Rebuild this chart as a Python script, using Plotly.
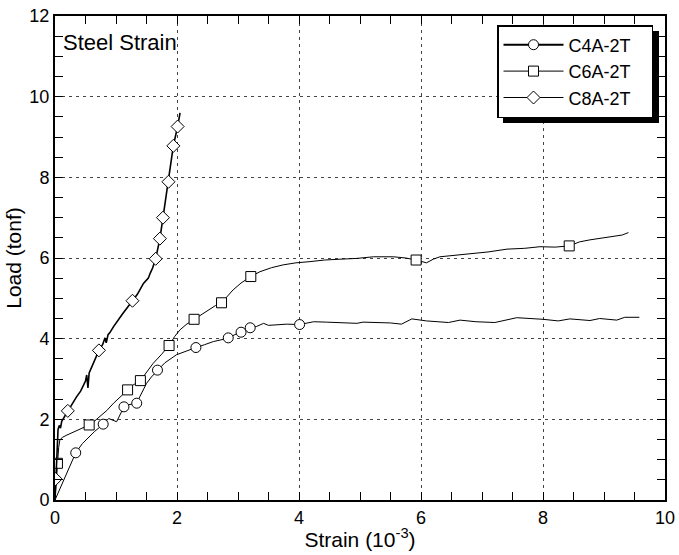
import plotly.graph_objects as go

# ---- data ----
c4_x = [0, 0.1, 0.2, 0.34, 0.45, 0.55, 0.65, 0.79, 0.88, 1.01, 1.06, 1.13, 1.2, 1.34, 1.39, 1.45, 1.5,
        1.58, 1.68, 1.8, 1.99, 2.15, 2.31, 2.45, 2.6, 2.72, 2.84, 2.95, 3.05, 3.2, 3.3, 3.42, 3.5,
        3.63, 3.8, 4.01, 4.24, 4.45, 4.67, 4.95, 5.05, 5.27, 5.5, 5.68, 5.85, 6.09, 6.45, 6.64,
        6.9, 7.21, 7.57, 8.0, 8.25, 8.44, 8.77, 8.93, 9.21, 9.34, 9.58]
c4_y = [0, 0.35, 0.7, 1.17, 1.4, 1.55, 1.7, 1.88, 2.02, 1.94, 2.1, 2.31, 2.36, 2.4, 2.56, 2.75, 2.89,
        3.05, 3.22, 3.4, 3.6, 3.7, 3.78, 3.85, 3.93, 3.97, 4.02, 4.1, 4.16, 4.27, 4.3, 4.38, 4.33,
        4.34, 4.36, 4.35, 4.42, 4.41, 4.4, 4.38, 4.41, 4.4, 4.39, 4.36, 4.49, 4.44, 4.4, 4.46,
        4.42, 4.4, 4.52, 4.48, 4.44, 4.49, 4.45, 4.5, 4.46, 4.53, 4.53]
c4_mx = [0.34, 0.79, 1.13, 1.34, 1.68, 2.31, 2.84, 3.05, 3.2, 4.01]
c4_my = [1.17, 1.88, 2.31, 2.4, 3.22, 3.78, 4.02, 4.16, 4.27, 4.35]

c6_x = [0, 0.02, 0.04, 0.06, 0.08, 0.12, 0.18, 0.25, 0.32, 0.4, 0.48, 0.56, 0.65, 0.74, 0.85, 0.96,
        1.05, 1.12, 1.19, 1.28, 1.4, 1.5, 1.61, 1.74, 1.87, 1.96, 2.05, 2.15, 2.28, 2.4, 2.54, 2.63,
        2.73, 2.82, 2.92, 3.05, 3.21, 3.36, 3.55, 3.74, 3.95, 4.18, 4.42, 4.67, 4.95, 5.22, 5.55,
        5.75, 5.92, 6.09, 6.2, 6.31, 6.6, 6.86, 7.1, 7.41, 7.7, 7.95, 8.2, 8.43, 8.6, 8.77, 9.0,
        9.15, 9.3, 9.4]
c6_y = [0, 0.5, 0.91, 1.3, 1.49, 1.55, 1.6, 1.65, 1.7, 1.74, 1.8, 1.86, 1.96, 2.07, 2.22, 2.4,
        2.52, 2.62, 2.73, 2.85, 2.96, 3.18, 3.39, 3.6, 3.83, 4.05, 4.22, 4.35, 4.48, 4.6, 4.75, 4.82,
        4.89, 5.05, 5.21, 5.38, 5.54, 5.66, 5.76, 5.83, 5.88, 5.91, 5.95, 5.97, 5.99, 6.03, 6.03,
        6.0, 5.95, 5.88, 5.97, 6.03, 6.07, 6.12, 6.15, 6.22, 6.24, 6.28, 6.27, 6.3, 6.4, 6.45, 6.5,
        6.53, 6.57, 6.63]
c6_mx = [0.04, 0.56, 1.19, 1.4, 1.87, 2.28, 2.73, 3.21, 5.92, 8.43]
c6_my = [0.91, 1.86, 2.73, 2.96, 3.83, 4.48, 4.89, 5.54, 5.95, 6.3]

c8_x = [0, 0.02, 0.04, 0.05, 0.07, 0.09, 0.11, 0.15, 0.21, 0.28, 0.35, 0.42, 0.5, 0.52, 0.54, 0.56,
        0.62, 0.68, 0.72, 0.78, 0.82, 0.84, 0.87, 0.9, 0.96, 1.1, 1.2, 1.27, 1.35, 1.45, 1.53, 1.56,
        1.6, 1.65, 1.72, 1.77, 1.86, 1.94, 2.01, 2.05]
c8_y = [0, 0.6, 1.2, 1.75, 1.85, 1.78, 1.95, 2.05, 2.21, 2.4, 2.55, 2.7, 2.95, 3.1, 2.78, 3.15,
        3.35, 3.55, 3.71, 3.85, 4.02, 3.9, 4.1, 4.15, 4.3, 4.6, 4.8, 4.94, 5.1, 5.37, 5.5, 5.62,
        5.75, 5.98, 6.48, 7.0, 7.89, 8.78, 9.26, 9.6]
c8_mx = [0.01, 0.21, 0.72, 1.27, 1.65, 1.72, 1.77, 1.86, 1.94, 2.01]
c8_my = [0.52, 2.21, 3.71, 4.94, 5.98, 6.48, 7.0, 7.89, 8.78, 9.26]

names = ["C4A-2T", "C6A-2T", "C8A-2T"]
symbols = ["circle", "square", "diamond"]

FONT = "Liberation Sans, Arial"

fig = go.Figure()
series = [(c4_x, c4_y, c4_mx, c4_my, 1.0, 10), (c6_x, c6_y, c6_mx, c6_my, 1.0, 10),
          (c8_x, c8_y, c8_mx, c8_my, 1.6, 10)]
for (lx, ly, mx, my, lw, ms), nm, sym in zip(series, names, symbols):
    fig.add_trace(go.Scatter(x=lx, y=ly, mode="lines", line=dict(color="black", width=lw),
                             showlegend=False, hoverinfo="skip"))
    fig.add_trace(go.Scatter(x=mx, y=my, mode="markers", showlegend=False,
                             marker=dict(symbol=sym, size=ms, color="white",
                                         line=dict(color="black", width=1))))

leg_widths = [2, 1, 1]
NB = "\u00a0\u00a0\u00a0"
for nm, sym, lw in zip(names, symbols, leg_widths):
    fig.add_trace(go.Scatter(x=[None], y=[None], mode="lines+markers", name=nm + NB,
                             line=dict(color="black", width=lw),
                             marker=dict(symbol=sym, size=10, color="white",
                                         line=dict(color="black", width=1))))

axis_common = dict(
    showline=True, linecolor="black", linewidth=2, mirror="allticks",
    ticks="inside", ticklen=8, tickwidth=1, tickcolor="black",
    showgrid=True, gridcolor="#444", gridwidth=1, griddash="3px,4px",
    zeroline=False, tickfont=dict(size=18, color="black", family=FONT),
    minor=dict(ticks="inside", ticklen=8, tickwidth=1, tickcolor="black", showgrid=False),
)

fig.update_xaxes(range=[0, 10], tick0=0, dtick=2, minor_dtick=0.5,
                 title=dict(text="Strain (10<sup>-3</sup>)", standoff=6,
                            font=dict(size=21, color="black", family=FONT)),
                 **axis_common)
fig.update_yaxes(range=[0, 12], tick0=0, dtick=2, minor_dtick=0.5,
                 title=dict(text="Load (tonf)", standoff=2,
                            font=dict(size=21, color="black", family=FONT)),
                 **axis_common)

# legend box geometry (pixels) used for the drop shadow
LB_L, LB_T, LB_R, LB_B = 497, 25, 653, 118
SH = 6
fig.add_shape(type="rect", xref="paper", yref="paper",
              x0=(LB_L + SH - 55) / 610, x1=(LB_R + SH - 55) / 610,
              y0=(500 - LB_B - SH + 1) / 484, y1=(500 - LB_T - SH) / 484,
              fillcolor="black", line=dict(width=0), layer="above")

fig.add_annotation(text="Steel Strain", xref="paper", yref="paper",
                   x=(61 - 55) / 610, y=(500 - 42) / 484, xanchor="left", yanchor="middle",
                   showarrow=False, font=dict(size=22, color="black", family=FONT))

fig.update_layout(
    width=679, height=555,
    margin=dict(l=55, r=14, t=16, b=55, autoexpand=False),
    paper_bgcolor="white", plot_bgcolor="white",
    font=dict(family=FONT, color="black"),
    legend=dict(x=(LB_L - 55) / 610, y=(500 - LB_T) / 484, xanchor="left", yanchor="top",
                bgcolor="white", bordercolor="black", borderwidth=1.5,
                font=dict(size=18, color="black", family=FONT),
                itemwidth=60, tracegroupgap=0),
)

fig.write_html("out.html")
